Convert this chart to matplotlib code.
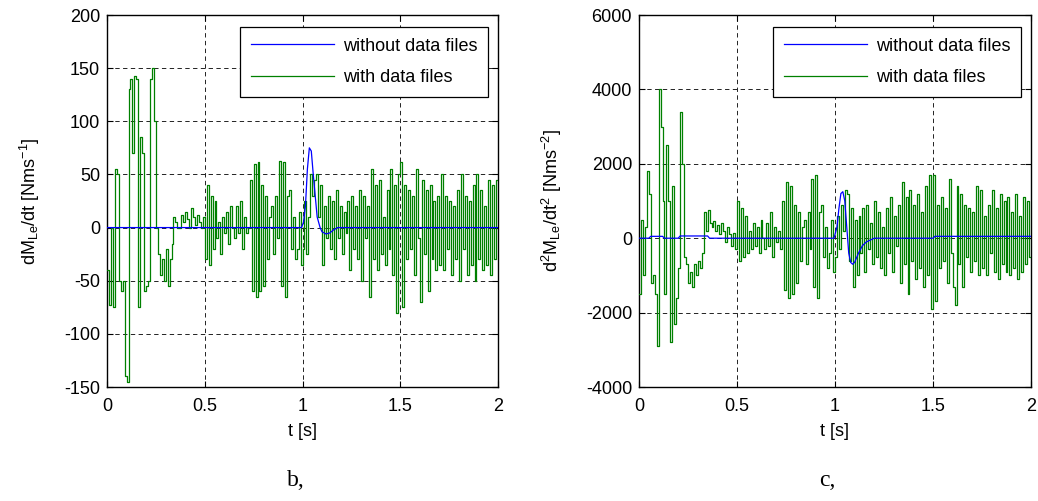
import numpy as np
import matplotlib
matplotlib.use('Agg')
import matplotlib.pyplot as plt

plt.rcParams['font.family'] = ['Liberation Sans', 'DejaVu Sans']
plt.rcParams['mathtext.fontset'] = 'custom'
plt.rcParams['mathtext.rm'] = 'Liberation Sans'
plt.rcParams['mathtext.default'] = 'regular'
plt.rcParams['axes.unicode_minus'] = False

DT = 0.01   # sample step of the "with data files" signals
FS = 13

# dM_Le/dt, with data files, t = 0.00 .. 1.99
dm_with = [
    -40, -73, 0, -75, 55, 50, -50, -60, -50, -140,
    -145, 130, 140, 70, 143, 140, -75, 85, 70, -60,
    -55, -50, 140, 150, 100, 0, -25, -45, -30, -50,
    -20, -55, -30, -15, 10, 5, 0, 0, 12, 5,
    15, 8, 0, 18, 10, 2, 12, 5, 0, 10,
    -30, 40, -35, 30, -20, 25, -10, 5, -25, 10,
    -5, 15, -15, 20, 0, -10, 20, -5, 25, -20,
    10, -5, 0, 45, -60, 60, -65, 62, -60, 40,
    -55, 30, -30, 10, 20, -25, 30, -10, 63, -55,
    62, -65, 30, 35, -20, 10, -30, -20, 15, -35,
    -20, 25, -25, 10, 50, 30, 45, 50, 10, 40,
    -35, 20, -10, 30, -20, 25, -30, 35, -10, 20,
    -25, 15, -5, 25, -40, 30, -20, 20, -30, 35,
    -50, 30, -10, 20, -65, 55, -30, 40, -40, 45,
    -25, 10, -35, 35, -20, 55, -45, 40, -80, 50,
    62, -75, 40, -30, 35, -20, 30, -45, 55, -10,
    -70, 45, -25, 35, -60, 40, -30, 25, -40, 30,
    -35, 50, -40, 30, -20, 25, -45, 20, -30, 35,
    -50, 50, -20, 30, -45, 25, -35, 40, -50, 50,
    -30, 35, -40, 20, -35, 45, -45, 40, -30, 45,
]

# dM_Le/dt, without data files
dm_without_t = [0, 0.995, 1.005, 1.015, 1.025, 1.035, 1.045, 1.055, 1.065, 1.075,
                1.09, 1.10, 1.12, 1.14, 1.16, 1.18, 2.0]
dm_without = [0, 0, 5, 20, 55, 75, 72, 50, 30, 10, 0, -4, -6, -5, -2, 0, 0]

# d2M_Le/dt2, with data files, t = 0.00 .. 1.99
d2m_with = [
    -1500, 500, -1000, 300, 1800, 1200, -1200, -1000, -1500, -2900,
    4000, 3000, 1000, -1500, 2500, 1000, -2800, 1400, -2300, -1600,
    -800, 3400, 2000, -500, -700, -1200, -900, -1300, -700, -1000,
    -600, -800, -400, 700, 200, 750, 400, 300, 450, 200,
    350, 100, 400, 200, -100, 300, 100, -200, 150, -300,
    1000, -600, 800, -500, 600, -400, 200, -300, 400, -200,
    300, -400, 500, 0, -300, 400, -200, 700, -500, 300,
    -100, 200, -300, 1000, -1400, 1500, -1600, 1400, -1500, 900,
    -1200, 700, -600, 300, 500, -700, 700, -300, 1600, -1300,
    1700, -1600, 700, 900, -500, 300, -800, -400, 500, -900,
    -500, 600, -300, 900, 200, 1300, 1200, -600, 800, -1300,
    500, -1000, 600, -400, 800, -900, 900, -300, 400, -700,
    1000, -500, 700, -800, 300, -1000, 800, -400, 1100, -900,
    600, -200, 900, -1200, 1500, -700, 1100, -1500, 1300, -600,
    900, -1100, 1200, -800, 700, -1300, 1400, -1000, 1700, -1900,
    1700, -1700, 900, -800, 1100, -600, 800, -1200, 1600, -400,
    -1300, -1800, 1400, -700, 1200, -1300, 900, -500, 800, -900,
    700, -600, 1400, -1000, 1300, -800, 600, -1000, 900, -400,
    1300, -900, 800, -1100, 1200, -700, 1000, -900, 1100, -1000,
    700, -800, 1200, -1100, 600, -900, 1100, -700, 1000, -500,
]

# d2M_Le/dt2, without data files
d2m_without_t = [0, 0.05, 0.06, 0.12, 0.13, 0.2, 0.21, 0.35, 0.36, 0.95, 0.995,
                 1.01, 1.02, 1.03, 1.04, 1.05, 1.06, 1.07, 1.08, 1.09, 1.10,
                 1.12, 1.14, 1.16, 1.20, 1.5, 1.51, 2.0]
d2m_without = [0, 0, 50, 50, 0, 0, 60, 60, 0, 0, 0,
               300, 800, 1200, 1250, 1000, 300, -400, -650, -700, -650,
               -400, -200, -100, 0, 0, 50, 50]

legend_labels = ['without data files', 'with data files']


def draw(ax, t_wo, y_wo, y_w, ylim, yticks, ylabel):
    t_w = np.arange(len(y_w)) * DT
    t_w = np.append(t_w, 2.0)
    y_w = np.append(y_w, y_w[-1])
    l1, = ax.plot(t_wo, y_wo, color='#0000ff', lw=0.9, zorder=4)
    l2, = ax.plot(t_w, y_w, color='#008000', lw=0.9, drawstyle='steps-post', zorder=3)
    ax.set_xlim(0, 2)
    ax.set_ylim(*ylim)
    ax.set_xticks([0, 0.5, 1, 1.5, 2])
    ax.set_xticklabels(['0', '0.5', '1', '1.5', '2'])
    ax.set_yticks(yticks)
    ax.grid(True, color='#222222', linestyle=(0, (4.5, 3.5)), linewidth=0.7)
    ax.tick_params(direction='in', top=True, right=True, length=4, labelsize=FS, pad=5)
    ax.tick_params(axis='x', pad=8)
    for s in ax.spines.values():
        s.set_linewidth(1.0)
    ax.set_xlabel('t [s]', fontsize=FS, labelpad=6)
    ax.set_ylabel(ylabel, fontsize=FS, labelpad=16)
    leg = ax.legend([l1, l2], legend_labels, loc='upper right', bbox_to_anchor=(0.975, 0.968),
                    borderaxespad=0, fancybox=False, framealpha=1, edgecolor='black',
                    fontsize=FS, handlelength=4.6, handletextpad=0.5, labelspacing=0.8,
                    borderpad=0.6)
    leg.get_frame().set_linewidth(0.9)
    leg.set_zorder(10)


fig = plt.figure(figsize=(10.38, 5.01), dpi=100)
ax1 = fig.add_axes([107 / 1038, 1 - 387 / 501, 391 / 1038, 372 / 501])
ax2 = fig.add_axes([639 / 1038, 1 - 387 / 501, 392 / 1038, 372 / 501])

draw(ax1, dm_without_t, dm_without, dm_with, (-150, 200),
     [-150, -100, -50, 0, 50, 100, 150, 200], 'dM$_{Le}$/dt [Nms$^{-1}$]')
draw(ax2, d2m_without_t, d2m_without, d2m_with, (-4000, 6000),
     [-4000, -2000, 0, 2000, 4000, 6000], 'd$^{2}$M$_{Le}$/dt$^{2}$ [Nms$^{-2}$]')

fig.text(296 / 1038, 1 - 480 / 501, 'b,', family='Liberation Serif', fontsize=17,
         ha='center', va='center')
fig.text(827 / 1038, 1 - 480 / 501, 'c,', family='Liberation Serif', fontsize=17,
         ha='center', va='center')

fig.savefig('out.png', dpi=100)
